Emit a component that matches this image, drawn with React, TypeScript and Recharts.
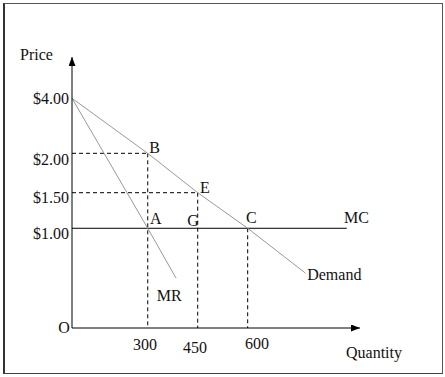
import { ComposedChart, Line, XAxis, YAxis, ReferenceLine, ReferenceDot } from "recharts"

// demand, marginal revenue and marginal cost (quantity, price)
const demandQ = [0, 300, 450, 600, 775]
const demandP = [4, 2, 1.5, 1, 0.55]
const mrQ = [0, 300, 385]
const mrP = [4, 1, 0.5]
const mcQ = [0, 900]
const mcP = [1, 1]

const quantityTicks = [300, 450, 600]
const priceTicks = [1, 1.5, 2, 4]

// points where dashed guides are dropped to the axes
const guideQ = [300, 450, 600]
const guideP = [2, 1.5, 1]
const guideHorizontal = [true, true, false]

// letter labels on the diagram
const labelText = ["B", "E", "A", "G", "C", "MC", "Demand", "MR", "O"]
const labelQ = [300, 450, 300, 450, 600, 900, 775, 385, 0]
const labelP = [2, 1.5, 1, 1, 1, 1, 0.55, 0.5, 0]

// layout only
const labelOffset = [
  [1.6, 0], [2.3, 0.6], [2.3, -4.3], [-10.4, -2.3], [-1.7, -5.6],
  [-2.7, -5.6], [1.7, 7], [-19.3, 22.7], [-13.7, 5.3],
]
const qStops = [0, 300, 450, 600, 940]
const qFracs = [0, 0.263, 0.4365, 0.61, 1]
const pStops = [0, 1, 1.5, 2, 4, 5.5]
const pFracs = [0, 0.368, 0.4993, 0.6446, 0.8476, 1]
const xTickDx = [-2.7, -2.7, 9.3]
const xTickDy = [20, 22.7, 18.7]
const yTickDy = [11, 10, 12, 5.2]

const toRows = (q: number[], p: number[]) => q.map((v, i) => ({ q: v, p: p[i] }))
const demand = toRows(demandQ, demandP)
const mr = toRows(mrQ, mrP)
const mc = toRows(mcQ, mcP)

// the drawing is not to scale, so each axis is piecewise linear
function piecewise(stops: number[], fracs: number[]): any {
  let dom = [stops[0], stops[stops.length - 1]]
  let rng = [0, 1]
  const s: any = (v: number) => {
    let i = 1
    while (i < stops.length - 1 && v > stops[i]) i++
    const t = (v - stops[i - 1]) / (stops[i] - stops[i - 1])
    const f = fracs[i - 1] + t * (fracs[i] - fracs[i - 1])
    return rng[0] + f * (rng[1] - rng[0])
  }
  s.domain = (d?: number[]) => {
    if (d === undefined) return dom.slice()
    dom = d.slice()
    return s
  }
  s.range = (r?: number[]) => {
    if (r === undefined) return rng.slice()
    rng = r.slice()
    return s
  }
  s.copy = () => piecewise(stops, fracs).domain(dom).range(rng)
  s.ticks = () => stops.slice()
  return s
}

const font = "'Liberation Serif', 'Times New Roman', serif"
const ink = "#111"

const XTick = (props: any) => {
  const { x, y, index, payload } = props
  return (
    <text x={x + xTickDx[index]} y={y + xTickDy[index]} textAnchor="middle" fontFamily={font} fontSize={16} fill={ink}>
      {payload.value}
    </text>
  )
}

const YTick = (props: any) => {
  const { x, y, index, payload } = props
  return (
    <text x={x} y={y + yTickDy[index]} textAnchor="end" fontFamily={font} fontSize={16} fill={ink}>
      {"$" + Number(payload.value).toFixed(2)}
    </text>
  )
}

export default function App() {
  return (
    <div style={{ position: "absolute", left: 0, top: 0, width: 445, height: 377, background: "#fff" }}>
      <div
        style={{
          position: "absolute",
          left: 3,
          top: 3,
          width: 437,
          height: 369,
          borderTop: "1px solid #555",
          borderRight: "1px solid #555",
          borderBottom: "1px solid #444",
          borderLeft: "2px solid #333",
        }}
      />
      <div style={{ position: "absolute", left: 0, top: 0 }}>
        <ComposedChart width={445} height={377} margin={{ top: 57, right: 85, bottom: 19, left: 0 }}>
          <defs>
            <marker
              id="arrowHead"
              viewBox="0 0 9 7"
              refX="9"
              refY="3.5"
              markerWidth="9"
              markerHeight="7"
              markerUnits="userSpaceOnUse"
              orient="auto-start-reverse"
            >
              <path d="M0,0 L9,3.5 L0,7 z" fill="#000" />
            </marker>
          </defs>
          <XAxis
            dataKey="q"
            type="number"
            domain={[0, 940]}
            scale={piecewise(qStops, qFracs)}
            ticks={quantityTicks}
            interval={0}
            height={30}
            tickSize={0}
            tickLine={false}
            tick={<XTick />}
            axisLine={{ stroke: "#000", strokeWidth: 1, markerEnd: "url(#arrowHead)" }}
            label={{
              content: (p: any) => (
                <text x={p.viewBox.x + p.viewBox.width - 14} y={p.viewBox.y + 30} fontFamily={font} fontSize={16} fill={ink}>
                  Quantity
                </text>
              ),
            }}
          />
          <YAxis
            dataKey="p"
            type="number"
            domain={[0, 5.5]}
            scale={piecewise(pStops, pFracs)}
            ticks={priceTicks}
            interval={0}
            width={72}
            tickSize={0}
            tickMargin={3}
            tickLine={false}
            tick={<YTick />}
            axisLine={{ stroke: "#000", strokeWidth: 1, markerStart: "url(#arrowHead)" }}
            label={{
              content: (p: any) => (
                <text x={p.viewBox.x + 20} y={p.viewBox.y + 3} fontFamily={font} fontSize={16} fill={ink}>
                  Price
                </text>
              ),
            }}
          />
          {guideQ.map((q, i) =>
            guideHorizontal[i] ? (
              <ReferenceLine
                key={"h" + i}
                segment={[{ x: 0, y: guideP[i] }, { x: q, y: guideP[i] }]}
                stroke="#000"
                strokeDasharray="4 3"
                ifOverflow="visible"
              />
            ) : null
          )}
          {guideQ.map((q, i) => (
            <ReferenceLine
              key={"v" + i}
              segment={[{ x: q, y: guideP[i] }, { x: q, y: 0 }]}
              stroke="#000"
              strokeDasharray="4 3"
              ifOverflow="visible"
            />
          ))}
          <Line data={mc} dataKey="p" type="linear" stroke="#000" strokeWidth={1} dot={false} activeDot={false} isAnimationActive={false} />
          <Line data={demand} dataKey="p" type="linear" stroke="#999" strokeWidth={1} dot={false} activeDot={false} isAnimationActive={false} />
          <Line data={mr} dataKey="p" type="linear" stroke="#999" strokeWidth={1} dot={false} activeDot={false} isAnimationActive={false} />
          {labelText.map((t, i) => (
            <ReferenceDot
              key={"l" + i}
              x={labelQ[i]}
              y={labelP[i]}
              r={0}
              ifOverflow="visible"
              shape={(p: any) => (
                <text x={p.cx + labelOffset[i][0]} y={p.cy + labelOffset[i][1]} fontFamily={font} fontSize={16} fill={ink}>
                  {t}
                </text>
              )}
            />
          ))}
        </ComposedChart>
      </div>
    </div>
  )
}
